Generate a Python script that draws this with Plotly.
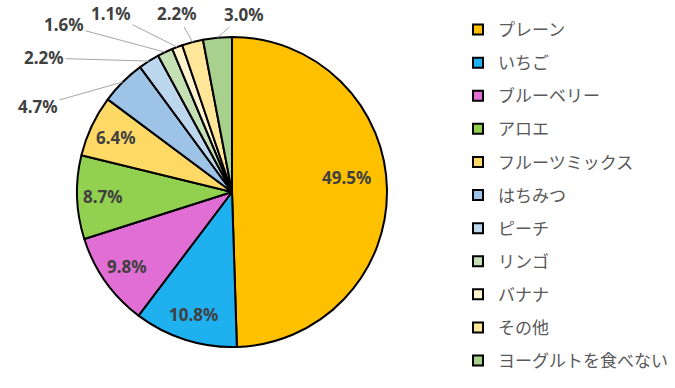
import math
import plotly.graph_objects as go

# ---- data ----
categories = ["プレーン", "いちご", "ブルーベリー", "アロエ", "フルーツミックス", "はちみつ",
              "ピーチ", "リンゴ", "バナナ", "その他", "ヨーグルトを食べない"]
values = [49.5, 10.8, 9.8, 8.7, 6.4, 4.7, 2.2, 1.6, 1.1, 2.2, 3.0]
colors = ["#FFC000", "#1FB0F0", "#E16ED4", "#92D050", "#FFD966", "#9DC3E6",
          "#BDD7EE", "#C5E0B4", "#FFF2CC", "#FFE699", "#A9D18E"]

# ---- layout constants (pixels) ----
W, H = 675, 388
CX, CY, R = 232, 192, 155
# inside labels: radial fraction, y shift ; outside labels: text centre in px
label_style = [
    ("in", 0.74, 13), ("in", 0.83, 0), ("in", 0.83, 0), ("in", 0.83, 0), ("in", 0.83, 0),
    ("out", (38, 106)), ("out", (44, 58)), ("out", (64, 25)), ("out", (111, 14)),
    ("out", (177, 14)), ("out", (244, 14)),
]

fig = go.Figure()
fig.add_trace(go.Pie(
    labels=categories, values=values, sort=False, direction="clockwise", rotation=0,
    marker=dict(colors=colors, line=dict(color="black", width=2)),
    textinfo="none", hoverinfo="label+percent", showlegend=False,
    domain=dict(x=[(CX - R) / W, (CX + R) / W], y=[1 - (CY + R) / H, 1 - (CY - R) / H]),
))

# legend entries (one per category, each in own group so spacing can be set)
for cat, col in zip(categories, colors):
    fig.add_trace(go.Scatter(
        x=[None], y=[None], mode="markers", name=cat, legendgroup=cat,
        marker=dict(symbol="square", size=10, color=col, line=dict(color="black", width=2)),
    ))

total = sum(values)
cum = 0.0
annotations = []
lab_font = dict(family="Noto Sans, Liberation Sans, sans-serif", size=17, color="#404040")
for v, st in zip(values, label_style):
    mid = (cum + v / 2) / total * 2 * math.pi
    cum += v
    txt = f"<b>{v:.1f}%</b>"
    if st[0] == "in":
        r = st[1] * R
        px = CX + r * math.sin(mid)
        py = CY - r * math.cos(mid) - st[2]
        annotations.append(dict(x=px / W, y=1 - py / H, xref="paper", yref="paper",
                                xanchor="center", yanchor="middle",
                                text=txt, showarrow=False, font=lab_font))
    else:
        ex = CX + R * math.sin(mid)
        ey = CY - R * math.cos(mid)
        tx, ty = st[1]
        annotations.append(dict(x=ex / W, y=1 - ey / H, xref="paper", yref="paper",
                                text=txt, showarrow=True, arrowhead=0, arrowwidth=1,
                                arrowcolor="#A6A6A6", ax=tx - ex, ay=ty - ey,
                                font=lab_font, standoff=0))

fig.update_layout(
    width=W, height=H,
    margin=dict(l=0, r=0, t=0, b=0),
    paper_bgcolor="white", plot_bgcolor="white",
    xaxis=dict(visible=False), yaxis=dict(visible=False),
    annotations=annotations,
    legend=dict(x=458 / W, xanchor="left", y=1 - 12 / H, yanchor="top",
                tracegroupgap=8, traceorder="grouped",
                font=dict(family="Noto Sans CJK JP", size=17, color="#595959")),
)

fig.write_html("out.html", config={"displayModeBar": False},
               post_script="document.body.style.margin='0';")
